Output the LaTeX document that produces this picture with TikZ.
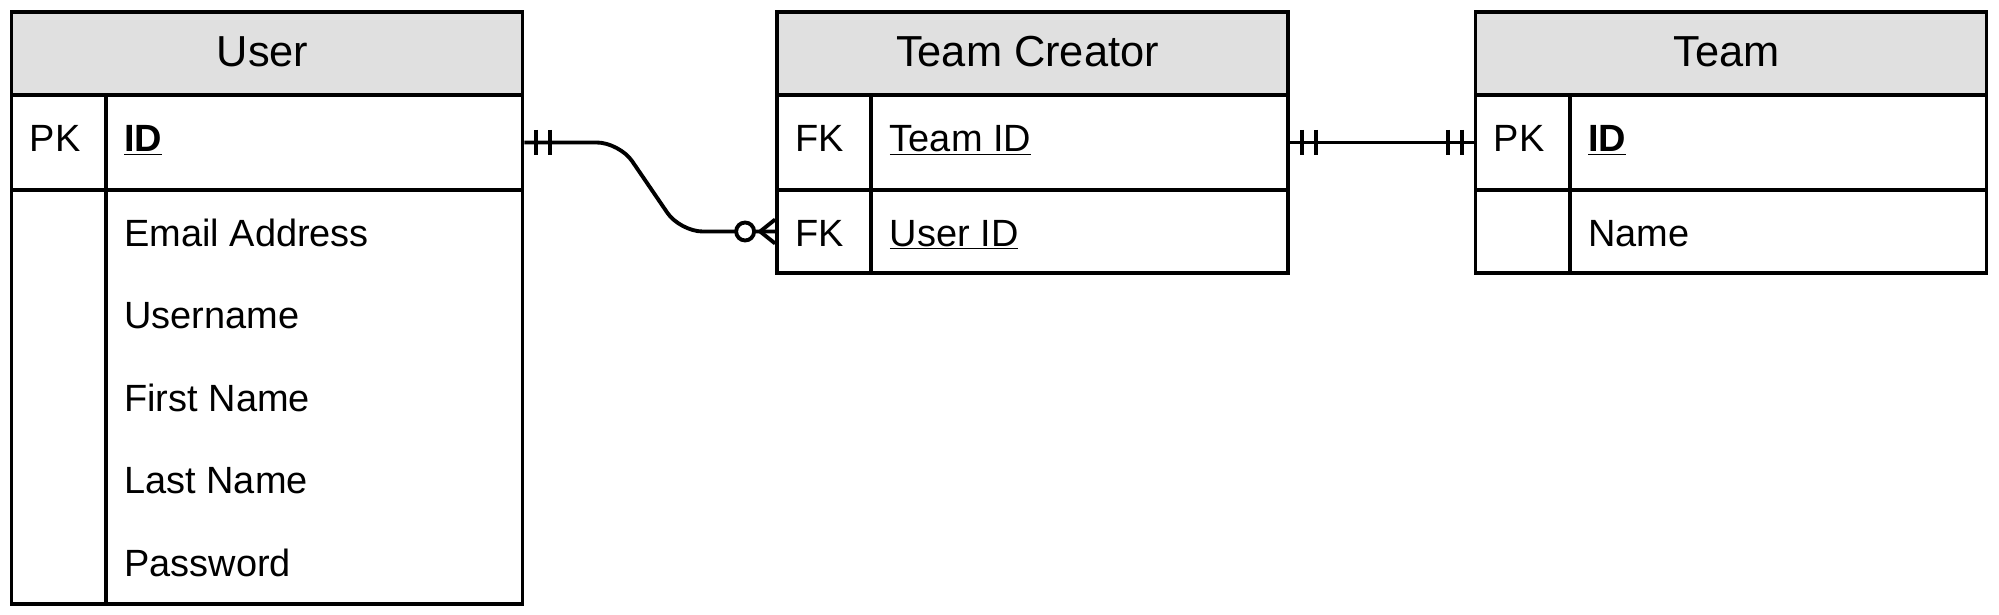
\documentclass[tikz,border=0pt]{standalone}
\usepackage{fontspec}
\setmainfont{Liberation Sans}
\usetikzlibrary{calc}
\definecolor{hdgray}{HTML}{E0E0E0}
\tikzset{ hd/.style = { rectangle % table title
        , draw
        , fill = hdgray
        , line width = 2.2pt
        , minimum width = 10.22cm
        , minimum height = 1.66cm
        }
        , keyrow/.style = { rectangle % row with key
        , draw
        , line width = 2.2pt
        , minimum width = 10.22cm
        , minimum height = 1.9cm
        }
        , attrow/.style = { rectangle % plain row
        , draw
        , line width = 2.2pt
        , minimum width = 10.22cm
        , minimum height = 1.66cm
        }
        , ttl/.style = { anchor = base % title text
        , inner sep = 0pt
        , font = \fontsize{24.7}{30}\selectfont
        }
        , txt/.style = { anchor = base west % field text
        , inner sep = 0pt
        , font = \fontsize{21.6}{26}\selectfont
        }
        , ln/.style = { line width = 2.2pt }
}
\def\bars(#1,#2){% double bar, #2 = side
  \foreach \o in {12,26} \draw[ln] ($(#1)+(#2*\o,-12.5)$) -- ++(0,25);
}

\begin{document}
\begin{tikzpicture}[x=0.02cm, y=-0.02cm]
  \useasboundingbox (0,0) rectangle (1999,615);
  % User
  \node[hd] (user) at (267,53.5) {};
  \node[keyrow] (uid) at (267,142.5) {};
  \node[keyrow, minimum height = 8.28cm] (uatt) at (267,397) {};
  \draw[ln] ($(uid.north west)+(96,0)$) -- ($(uatt.south west)+(96,0)$);
  \node[ttl] (usert) at (262.5,67) {User};
  \node[txt] (upk) at (29.5,152) {PK};
  \node[txt] (uidt) at (124,152) {\underline{\textbf{ID}}};
  \foreach[count=\n] \f in {Email Address, Username, First Name, Last Name, Password}
    \node[txt] (ua\n) at (124,163.5+82.5*\n) {\f};

  % Team Creator
  \node[hd] (tc) at (1032.5,53.5) {};
  \node[keyrow] (tcteam) at (1032.5,142.5) {};
  \node[attrow] (tcuser) at (1032.5,231.5) {};
  \draw[ln] ($(tcteam.north west)+(96,0)$) -- ($(tcuser.south west)+(96,0)$);
  \node[ttl] (tct) at (1027.5,67) {Team Creator};
  \node[txt] (tcfk1) at (795,152) {FK};
  \node[txt] (tcfk2) at (795,246) {FK};
  \node[txt] (tcteamt) at (889.5,152) {\underline{Team ID}};
  \node[txt] (tcusert) at (889.5,246) {\underline{User ID}};

  % Team
  \node[hd] (team) at (1731,53.5) {};
  \node[keyrow] (tid) at (1731,142.5) {};
  \node[attrow] (tname) at (1731,231.5) {};
  \draw[ln] ($(tid.north west)+(96,0)$) -- ($(tname.south west)+(96,0)$);
  \node[ttl] (teamt) at (1726.5,67) {Team};
  \node[txt] (tpk) at (1493.5,152) {PK};
  \node[txt] (tidt) at (1588,152) {\underline{\textbf{ID}}};
  \node[txt] (tnamet) at (1588,246) {Name};

  % User -- Team Creator
  \draw[ln, rounded corners=0.45cm] (uid.east) -- ++(95,0)
    -- ($(tcuser.west)+(-95,0)$) -- (tcuser.west);
  \bars(uid.east,1)
  \draw[ln] ($(tcuser.west)+(-15,0)$) -- ($(tcuser.west)+(0,-12)$);
  \draw[ln] ($(tcuser.west)+(-15,0)$) -- ($(tcuser.west)+(0,12)$);
  \draw[ln, fill=white] ($(tcuser.west)+(-30,0)$) circle (0.18cm);

  % Team Creator -- Team
  \draw[ln] (tcteam.east) -- (tid.west);
  \bars(tcteam.east,1)
  \bars(tid.west,-1)
\end{tikzpicture}
\end{document}
